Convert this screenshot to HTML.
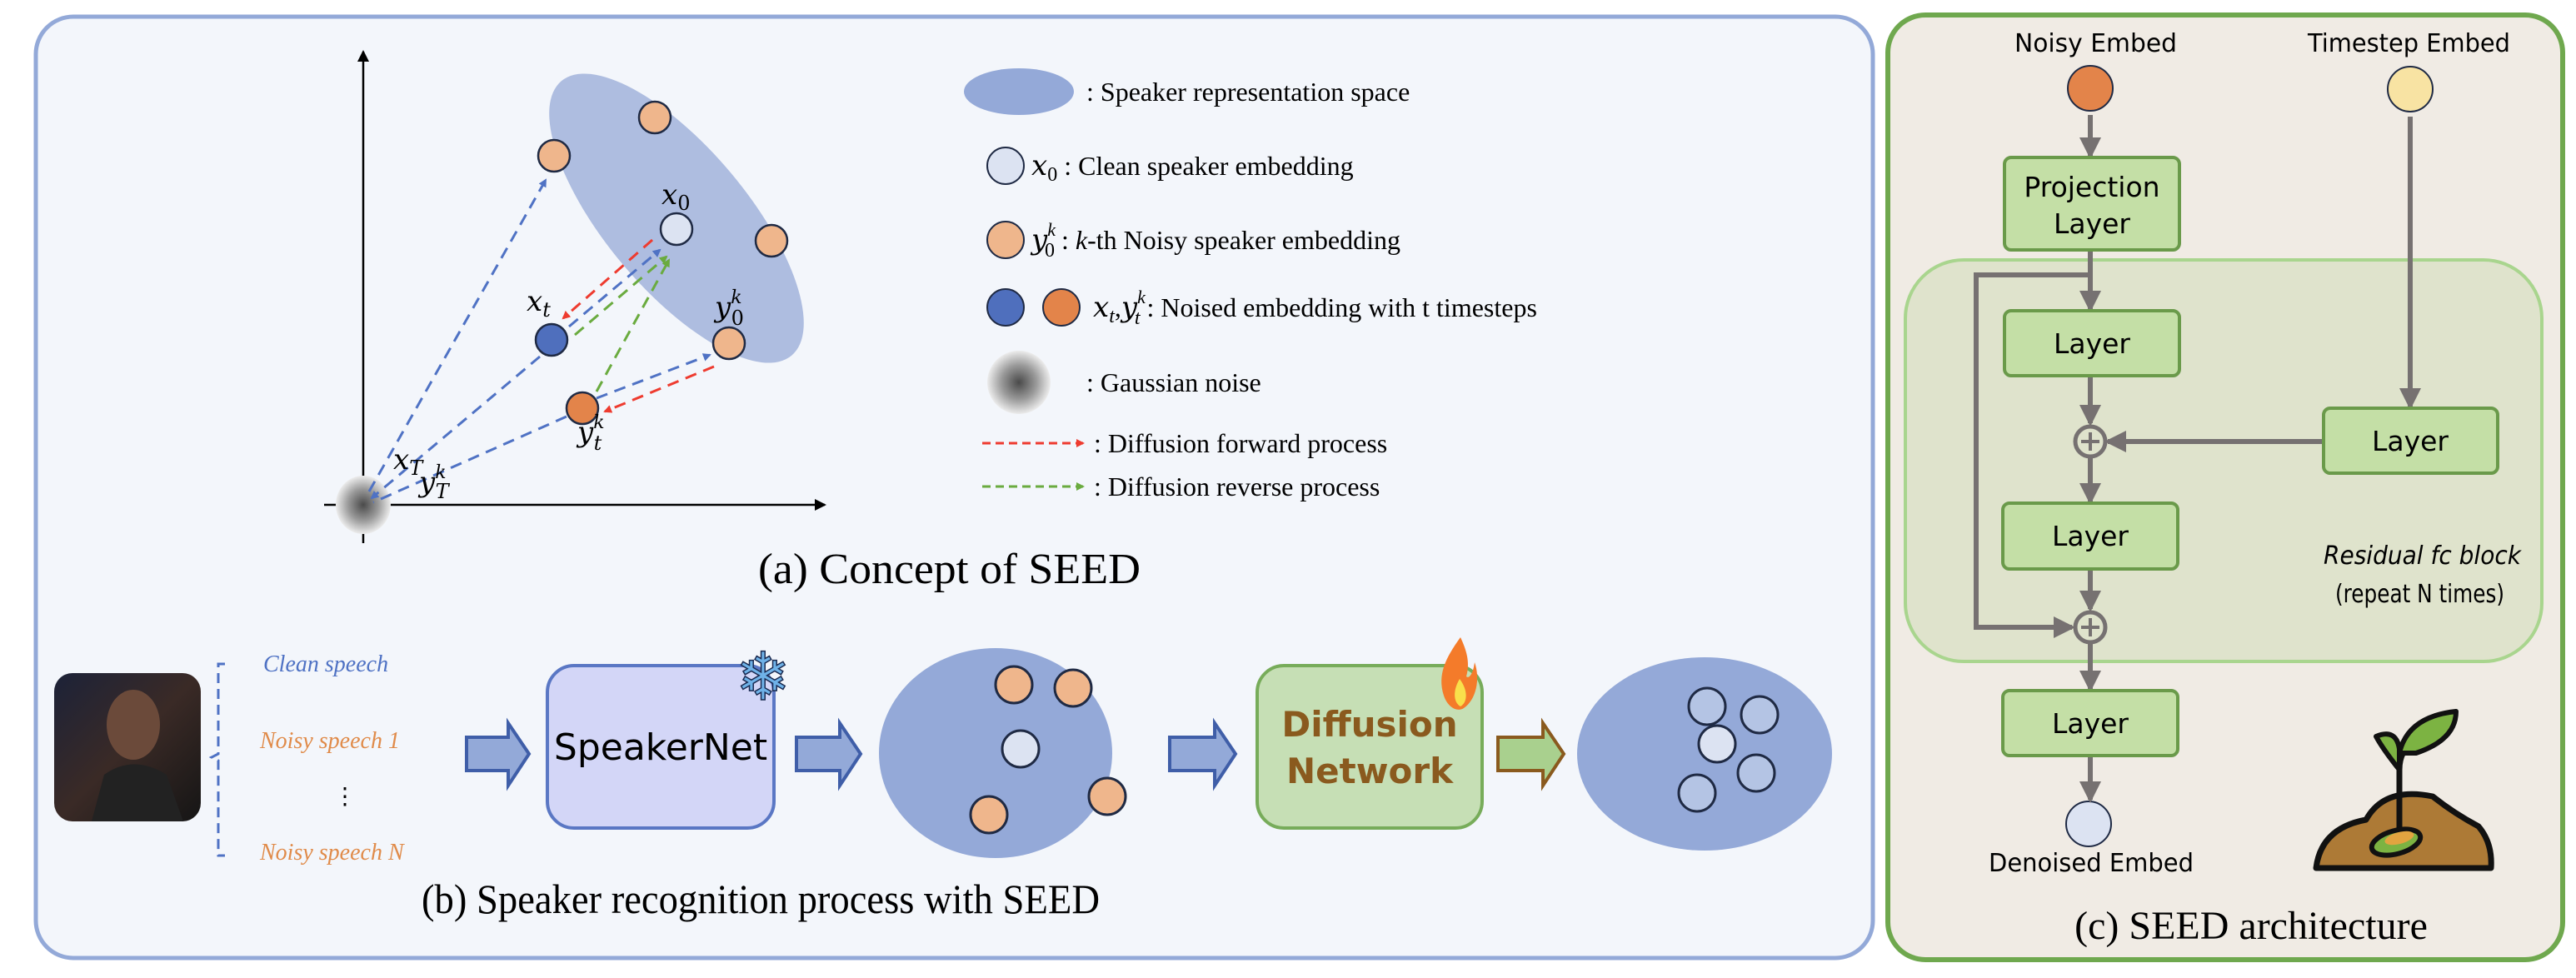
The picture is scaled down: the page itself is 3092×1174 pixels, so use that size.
<!DOCTYPE html>
<html><head><meta charset="utf-8"><style>
html,body{margin:0;padding:0;background:#fff;}
svg{display:block;}
</style></head><body>
<svg width="3092" height="1174" viewBox="0 0 3092 1174" xmlns="http://www.w3.org/2000/svg">
<defs>
<radialGradient id="gn" cx="50%" cy="50%" r="50%">
<stop offset="0" stop-color="#4a4a4a"/><stop offset="0.55" stop-color="#9a9a9a"/><stop offset="1" stop-color="#ececec"/>
</radialGradient>
<linearGradient id="ph" x1="0" y1="0" x2="1" y2="1">
<stop offset="0" stop-color="#1c2238"/><stop offset="0.5" stop-color="#3a2a26"/><stop offset="1" stop-color="#151515"/>
</linearGradient>
<marker id="mb" markerWidth="10" markerHeight="10" refX="8" refY="5" orient="auto" markerUnits="userSpaceOnUse"><path d="M0,0 L10,5 L0,10 z" fill="#4f72c4"/></marker>
<marker id="mr" markerWidth="10" markerHeight="10" refX="8" refY="5" orient="auto" markerUnits="userSpaceOnUse"><path d="M0,0 L10,5 L0,10 z" fill="#ee3b2f"/></marker>
<marker id="mg" markerWidth="10" markerHeight="10" refX="8" refY="5" orient="auto" markerUnits="userSpaceOnUse"><path d="M0,0 L10,5 L0,10 z" fill="#6aab3f"/></marker>
<marker id="mk" markerWidth="14" markerHeight="14" refX="12" refY="7" orient="auto" markerUnits="userSpaceOnUse"><path d="M0,0 L14,7 L0,14 z" fill="#000"/></marker>
<marker id="ma" markerWidth="26" markerHeight="26" refX="22" refY="13" orient="auto" markerUnits="userSpaceOnUse"><path d="M0,0 L26,13 L0,26 z" fill="#767171"/></marker>
</defs>

<!-- panels -->
<rect x="43" y="20" width="2205" height="1130" rx="45" fill="#f3f6fb" stroke="#93a9d8" stroke-width="5"/>
<rect x="2266" y="18" width="810" height="1134" rx="45" fill="#f0ebe4" stroke="#6fa84e" stroke-width="6"/>

<!-- (a) axes -->
<line x1="436" y1="652" x2="436" y2="62" stroke="#000" stroke-width="2.5" marker-end="url(#mk)"/>
<line x1="389" y1="606" x2="990" y2="606" stroke="#000" stroke-width="2.5" marker-end="url(#mk)"/>
<ellipse cx="812" cy="262" rx="215" ry="85" transform="rotate(50 812 262)" fill="#aebde0"/>
<ellipse cx="436" cy="606" rx="33" ry="35" fill="url(#gn)"/>
<g fill="none" stroke-width="3" stroke-dasharray="14 9">
<line x1="443" y1="590" x2="655" y2="216" stroke="#4f72c4" marker-end="url(#mb)"/>
<line x1="648" y1="428" x2="446" y2="598" stroke="#4f72c4" marker-end="url(#mb)"/>
<line x1="683" y1="392" x2="792" y2="300" stroke="#4f72c4" marker-end="url(#mb)"/>
<line x1="680" y1="500" x2="448" y2="603" stroke="#4f72c4"/>
<line x1="716" y1="478" x2="852" y2="426" stroke="#4f72c4" marker-end="url(#mb)"/>
<line x1="783" y1="288" x2="676" y2="382" stroke="#ee3b2f" marker-end="url(#mr)"/>
<line x1="857" y1="440" x2="726" y2="494" stroke="#ee3b2f" marker-end="url(#mr)"/>
<line x1="690" y1="402" x2="800" y2="308" stroke="#6aab3f" marker-end="url(#mg)"/>
<line x1="716" y1="470" x2="803" y2="312" stroke="#6aab3f" marker-end="url(#mg)"/>
</g>
<g stroke="#1f2a44" stroke-width="2.5">
<circle cx="786" cy="141" r="19" fill="#efb68c"/>
<circle cx="665" cy="187" r="19" fill="#efb68c"/>
<circle cx="926" cy="289" r="19" fill="#efb68c"/>
<circle cx="875" cy="412" r="19" fill="#efb68c"/>
<circle cx="812" cy="275" r="19" fill="#dce3f2"/>
<circle cx="662" cy="408" r="19" fill="#4f6fbd"/>
<circle cx="699" cy="490" r="19" fill="#e3844a"/>
</g>
<g font-family="'DejaVu Serif','Liberation Serif',serif" font-style="italic" font-size="34" fill="#000">
<text x="794" y="245">x<tspan font-size="24" dy="7" font-style="normal">0</tspan></text>
<text x="632" y="373">x<tspan font-size="24" dy="7">t</tspan></text>
<text x="858" y="380">y<tspan font-size="22" dy="-16">k</tspan><tspan font-size="24" dx="-13" dy="26" font-style="normal">0</tspan></text>
<text x="693" y="530">y<tspan font-size="22" dy="-16">k</tspan><tspan font-size="24" dx="-13" dy="26">t</tspan></text>
<text x="472" y="563">x<tspan font-size="24" dy="7">T</tspan></text>
<text x="503" y="590">y<tspan font-size="22" dy="-16">k</tspan><tspan font-size="24" dx="-13" dy="24">T</tspan></text>
</g>

<!-- legend -->
<ellipse cx="1223" cy="110" rx="66" ry="28" fill="#94a9d8"/>
<g stroke="#1f2a44" stroke-width="2">
<circle cx="1207" cy="199" r="22" fill="#dce3f2"/>
<circle cx="1207" cy="288" r="22" fill="#efb68c"/>
<circle cx="1207" cy="369" r="22" fill="#4f6fbd"/>
<circle cx="1274" cy="369" r="22" fill="#e3844a"/>
</g>
<circle cx="1223" cy="459" r="38" fill="url(#gn)"/>
<line x1="1179" y1="532" x2="1300" y2="532" stroke="#ee3b2f" stroke-width="3" stroke-dasharray="10 6" marker-end="url(#mr)"/>
<line x1="1179" y1="584" x2="1300" y2="584" stroke="#6aab3f" stroke-width="3" stroke-dasharray="10 6" marker-end="url(#mg)"/>
<g font-family="'Liberation Serif',serif" font-size="32" fill="#000">
<text x="1304" y="121">: Speaker representation space</text>
<text x="1238" y="210"><tspan font-style="italic" font-family="'DejaVu Serif',serif" font-size="34">x</tspan><tspan font-size="24" dy="7">0</tspan><tspan dy="-7"> : Clean speaker embedding</tspan></text>
<text x="1238" y="299"><tspan font-style="italic" font-family="'DejaVu Serif',serif" font-size="34">y</tspan><tspan font-size="22" font-style="italic" dy="-16">k</tspan><tspan font-size="24" dx="-13" dy="25">0</tspan><tspan dy="-9"> : </tspan><tspan font-style="italic">k</tspan>-th Noisy speaker embedding</text>
<text x="1312" y="380"><tspan font-style="italic" font-family="'DejaVu Serif',serif" font-size="34">x</tspan><tspan font-size="24" font-style="italic" dy="7">t</tspan><tspan dy="-7">,</tspan><tspan font-style="italic" font-family="'DejaVu Serif',serif" font-size="34">y</tspan><tspan font-size="22" font-style="italic" dy="-16">k</tspan><tspan font-size="24" font-style="italic" dx="-13" dy="25">t</tspan><tspan dy="-9"> : Noised embedding with t timesteps</tspan></text>
<text x="1304" y="470">: Gaussian noise</text>
<text x="1313" y="543">: Diffusion forward process</text>
<text x="1313" y="595">: Diffusion reverse process</text>
<text x="910" y="700" font-size="52" textLength="459" lengthAdjust="spacingAndGlyphs">(a) Concept of SEED</text>
<text x="506" y="1096" font-size="50" textLength="814" lengthAdjust="spacingAndGlyphs">(b) Speaker recognition process with SEED</text>
</g>

<!-- (b) -->
<rect x="65" y="808" width="176" height="178" rx="22" fill="url(#ph)"/>
<ellipse cx="160" cy="870" rx="32" ry="42" fill="#6b4a3a"/>
<path d="M110 986 L125 930 Q160 905 200 930 L220 986 Z" fill="#222"/>
<path d="M270 797 L262 797 L262 905 L254 909 L262 913 L262 1027 L270 1027" fill="none" stroke="#4f72c4" stroke-width="3" stroke-dasharray="12 7"/>
<g font-family="'Liberation Serif',serif" font-style="italic" font-size="28">
<text x="316" y="806" fill="#4f72c4">Clean speech</text>
<text x="312" y="898" fill="#e08b4a">Noisy speech 1</text>
<text x="312" y="1032" fill="#e08b4a">Noisy speech N</text>
</g>
<text x="414" y="965" font-family="'Liberation Serif',serif" font-size="28" text-anchor="middle">⋮</text>

<g stroke="#3f5ea8" stroke-width="4" fill="#93a9d8">
<path d="M560 885 L610 885 L610 868 L635 905 L610 943 L610 925 L560 925 Z"/>
<path d="M956 885 L1008 885 L1008 868 L1033 905 L1008 943 L1008 925 L956 925 Z"/>
<path d="M1404 885 L1458 885 L1458 868 L1483 905 L1458 943 L1458 925 L1404 925 Z"/>
</g>
<path d="M1798 885 L1852 885 L1852 868 L1877 905 L1852 943 L1852 925 L1798 925 Z" fill="#a9d08e" stroke="#8a5a1e" stroke-width="4"/>

<rect x="657" y="799" width="272" height="195" rx="32" fill="#d3d6f7" stroke="#5a77c4" stroke-width="4"/>
<text x="793" y="912" font-family="'DejaVu Sans','Liberation Sans',sans-serif" font-size="44" text-anchor="middle">SpeakerNet</text>
<text x="916" y="840" font-family="'DejaVu Sans',sans-serif" font-size="80" fill="#6fb2e8" stroke="#1a2a50" stroke-width="1.5" text-anchor="middle">❄</text>

<ellipse cx="1195" cy="904" rx="140" ry="126" fill="#94a9d8"/>
<g stroke="#1f2a44" stroke-width="3">
<circle cx="1217" cy="822" r="22" fill="#efb68c"/>
<circle cx="1288" cy="826" r="22" fill="#efb68c"/>
<circle cx="1225" cy="899" r="22" fill="#dce3f2"/>
<circle cx="1187" cy="978" r="22" fill="#efb68c"/>
<circle cx="1329" cy="956" r="22" fill="#efb68c"/>
</g>

<rect x="1509" y="799" width="270" height="195" rx="32" fill="#c6dfb5" stroke="#77ac5a" stroke-width="4"/>
<g font-family="'DejaVu Sans','Liberation Sans',sans-serif" font-weight="bold" font-size="42" fill="#8a5a1e" text-anchor="middle">
<text x="1644" y="884">Diffusion</text>
<text x="1644" y="940">Network</text>
</g>
<path d="M1753 765 C1735 790 1725 810 1733 835 C1738 850 1750 855 1757 850 C1772 840 1777 815 1770 795 C1768 810 1763 815 1760 812 C1765 795 1760 780 1753 765 Z" fill="#f47b2a"/>
<path d="M1752 815 C1744 828 1744 843 1753 848 C1762 843 1762 828 1752 815 Z" fill="#f9e04b"/>

<ellipse cx="2046" cy="905" rx="153" ry="116" fill="#94a9d8"/>
<g stroke="#1f2a44" stroke-width="3">
<circle cx="2049" cy="848" r="22" fill="#b4c4e4"/>
<circle cx="2112" cy="858" r="22" fill="#b4c4e4"/>
<circle cx="2061" cy="893" r="22" fill="#dce3f2"/>
<circle cx="2108" cy="928" r="22" fill="#b4c4e4"/>
<circle cx="2037" cy="952" r="22" fill="#b4c4e4"/>
</g>

<!-- (c) -->
<g font-family="'DejaVu Sans','Liberation Sans',sans-serif" fill="#000" font-size="30">
<text x="2418" y="62" textLength="195" lengthAdjust="spacingAndGlyphs">Noisy Embed</text>
<text x="2770" y="62" textLength="243" lengthAdjust="spacingAndGlyphs">Timestep Embed</text>
</g>
<g transform="translate(-3,-6)">
<rect x="2290" y="318" width="764" height="482" rx="70" fill="#dfe3cc" stroke="#a9d58e" stroke-width="4"/>
<g font-family="'DejaVu Sans','Liberation Sans',sans-serif" fill="#000" font-size="30">
<text x="2390" y="1052" textLength="246" lengthAdjust="spacingAndGlyphs">Denoised Embed</text>
<text x="2792" y="683" font-style="italic" textLength="237" lengthAdjust="spacingAndGlyphs">Residual fc block</text>
<text x="2806" y="729" textLength="203" lengthAdjust="spacingAndGlyphs">(repeat N times)</text>
</g>
<circle cx="2512" cy="112" r="27" fill="#e3844a" stroke="#1f2a44" stroke-width="2"/>
<circle cx="2896" cy="113" r="27" fill="#f8e3a3" stroke="#1f2a44" stroke-width="2"/>
<circle cx="2510" cy="995" r="27" fill="#dce3f2" stroke="#1f2a44" stroke-width="2"/>

<g stroke="#767171" stroke-width="6" fill="none">
<line x1="2512" y1="144" x2="2512" y2="193" marker-end="url(#ma)"/>
<line x1="2512" y1="306" x2="2512" y2="377" marker-end="url(#ma)"/>
<line x1="2512" y1="457" x2="2512" y2="514" marker-end="url(#ma)"/>
<line x1="2512" y1="556" x2="2512" y2="608" marker-end="url(#ma)"/>
<line x1="2512" y1="689" x2="2512" y2="737" marker-end="url(#ma)"/>
<line x1="2512" y1="779" x2="2512" y2="833" marker-end="url(#ma)"/>
<line x1="2512" y1="913" x2="2512" y2="966" marker-end="url(#ma)"/>
<line x1="2896" y1="146" x2="2896" y2="494" marker-end="url(#ma)"/>
<line x1="2792" y1="536" x2="2533" y2="536" marker-end="url(#ma)"/>
<path d="M2512 336 L2375 336 L2375 759 L2490 759" marker-end="url(#ma)"/>
</g>
<g stroke="#767171" stroke-width="5" fill="#dfe3cc">
<circle cx="2512" cy="536" r="18"/>
<circle cx="2512" cy="759" r="18"/>
</g>
<g stroke="#767171" stroke-width="4">
<line x1="2501" y1="536" x2="2523" y2="536"/><line x1="2512" y1="525" x2="2512" y2="547"/>
<line x1="2501" y1="759" x2="2523" y2="759"/><line x1="2512" y1="748" x2="2512" y2="770"/>
</g>

<g fill="#c4dfa6" stroke="#6a9a4a" stroke-width="4">
<rect x="2409" y="195" width="210" height="111" rx="8"/>
<rect x="2409" y="379" width="210" height="78" rx="8"/>
<rect x="2792" y="496" width="209" height="78" rx="8"/>
<rect x="2407" y="610" width="210" height="79" rx="8"/>
<rect x="2407" y="835" width="210" height="78" rx="8"/>
</g>
<g font-family="'DejaVu Sans','Liberation Sans',sans-serif" font-size="33" text-anchor="middle" fill="#000">
<text x="2514" y="242">Projection</text>
<text x="2514" y="286">Layer</text>
<text x="2514" y="430">Layer</text>
<text x="2896" y="547">Layer</text>
<text x="2512" y="661">Layer</text>
<text x="2512" y="886">Layer</text>
</g>
</g>
<text x="2702" y="1127" font-family="'Liberation Serif',serif" font-size="48" text-anchor="middle">(c) SEED architecture</text>

<!-- sprout -->
<path d="M2780 1042 Q2786 994 2840 984 Q2862 944 2920 956 Q2945 976 2975 992 Q2992 1012 2990 1042 Z" fill="#ad7a36" stroke="#111" stroke-width="7" stroke-linejoin="round"/>
<path d="M2880 1006 L2880 924 Q2880 899 2900 889" fill="none" stroke="#111" stroke-width="7"/>
<path d="M2880 924 Q2860 899 2852 884 Q2876 874 2880 899 Z" fill="#7cb342" stroke="#111" stroke-width="6" stroke-linejoin="round"/>
<path d="M2880 904 Q2890 860 2948 854 Q2948 888 2900 904 Z" fill="#7cb342" stroke="#111" stroke-width="6" stroke-linejoin="round"/>
<ellipse cx="2876" cy="1011" rx="30" ry="14" transform="rotate(-15 2876 1011)" fill="#7cb342" stroke="#111" stroke-width="6"/>
<ellipse cx="2880" cy="1006" rx="18" ry="7" transform="rotate(-15 2880 1006)" fill="#e2a440"/>
</svg>
</body></html>
